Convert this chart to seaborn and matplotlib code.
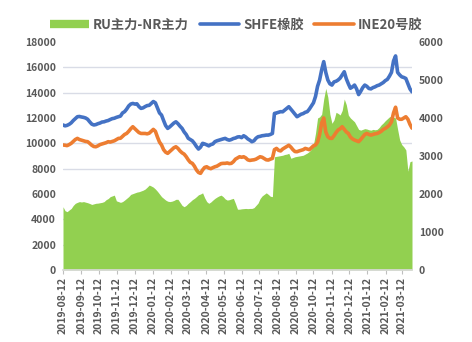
import numpy as np
import pandas as pd
import matplotlib
matplotlib.use('Agg')
import matplotlib.pyplot as plt
from matplotlib.lines import Line2D
import seaborn as sns

sns.set_theme(style='white')
plt.rcParams['font.family'] = ['Noto Sans CJK SC', 'DejaVu Sans']

# ---- data (readings every 3.5 days, taken from the chart) ----
start_date = '2019-08-12'
step = '84h'
shfe = [11450, 11380, 11420, 11500, 11620, 11800, 11950, 12100, 12120, 12080,
        12050, 12000, 11900, 11700, 11520, 11450, 11480, 11550, 11600, 11680,
        11700, 11760, 11800, 11880, 11950, 11980, 12050, 12100, 12150, 12400,
        12500, 12700, 12950, 13100, 13150, 13100, 13120, 12900, 12760, 12800,
        12900, 12980, 13000, 13150, 13300, 13200, 12800, 12400, 12230, 11800,
        11400, 11180, 11300, 11450, 11600, 11700, 11550, 11350, 11180, 10900,
        10700, 10400, 10300, 10200, 10000, 9750, 9550, 9700, 10000, 9950,
        9880, 9800, 9900, 9950, 10130, 10200, 10250, 10300, 10350, 10390,
        10300, 10250, 10300, 10380, 10420, 10500, 10520, 10450, 10600, 10500,
        10350, 10250, 10130, 10200, 10400, 10520, 10550, 10600, 10620, 10650,
        10650, 10700, 10780, 12360, 12400, 12450, 12500, 12490, 12620, 12750,
        12890, 12700, 12500, 12300, 12100, 12200, 12300, 12350, 12450, 12500,
        12700, 12950, 13200, 13700, 14500, 15000, 15800, 16450, 15600, 15000,
        14700, 14600, 14850, 14900, 15000, 15150, 15400, 15650, 15100, 14700,
        14350, 14450, 14600, 14300, 13850, 14100, 14400, 14600, 14500, 14330,
        14300, 14400, 14460, 14550, 14600, 14700, 14800, 14950, 15050, 15300,
        15600, 16500, 16900, 15600, 15400, 15250, 15200, 15120, 14700, 14300,
        14070]
ine = [9870, 9850, 9820, 9900, 10000, 10150, 10300, 10390, 10300, 10250,
       10200, 10150, 10130, 10000, 9850, 9750, 9730, 9800, 9900, 9950,
       10000, 10050, 10130, 10100, 10150, 10200, 10300, 10390, 10400, 10550,
       10700, 10780, 10950, 11150, 11310, 11150, 11000, 10850, 10780, 10780,
       10780, 10750, 10800, 10950, 11100, 10950, 10500, 10100, 9870, 9500,
       9300, 9210, 9350, 9500, 9650, 9730, 9600, 9400, 9250, 9150,
       8950, 8700, 8500, 8420, 8200, 7900, 7700, 7630, 7900, 8100,
       8150, 8050, 8000, 8080, 8150, 8200, 8300, 8400, 8420, 8420,
       8450, 8400, 8420, 8550, 8750, 8850, 8940, 8900, 8940, 8850,
       8700, 8650, 8680, 8700, 8750, 8850, 8940, 8900, 8800, 8700,
       8680, 8750, 8810, 9500, 9600, 9450, 9400, 9550, 9650, 9750,
       9850, 9700, 9500, 9350, 9340, 9400, 9450, 9500, 9600, 9550,
       9500, 9650, 9800, 9870, 10100, 10700, 11600, 12000, 10900, 10520,
       10400, 10390, 10600, 10850, 11050, 11150, 11310, 11100, 10900, 10780,
       10500, 10350, 10260, 10200, 10130, 10300, 10500, 10700, 10780, 10700,
       10650, 10700, 10750, 10780, 10850, 10950, 11100, 11180, 11300, 11440,
       11700, 12400, 12850, 12000, 11900, 11900, 12000, 12100, 11900, 11500,
       11200]
spread = [1665, 1560, 1535, 1580, 1620, 1700, 1755, 1780, 1800, 1790,
          1800, 1785, 1770, 1750, 1725, 1740, 1755, 1760, 1770, 1780,
          1800, 1850, 1880, 1930, 1950, 1970, 1820, 1800, 1780, 1800,
          1840, 1885, 1930, 1990, 2010, 2030, 2050, 2060, 2080, 2100,
          2130, 2180, 2235, 2210, 2180, 2130, 2070, 2000, 1930, 1885,
          1840, 1810, 1800, 1810, 1830, 1860, 1860, 1780, 1700, 1665,
          1700, 1755, 1800, 1850, 1885, 1930, 1980, 2000, 2030, 1900,
          1800, 1755, 1790, 1840, 1885, 1920, 1950, 1970, 1930, 1870,
          1840, 1850, 1870, 1885, 1750, 1600, 1600, 1610, 1615, 1620,
          1615, 1620, 1620, 1640, 1700, 1760, 1880, 1950, 1990, 2030,
          1990, 1940, 1930, 2980, 2990, 3000, 3010, 3020, 3040, 3050,
          3070, 2940, 2960, 2980, 2990, 3000, 3010, 3020, 3050, 3080,
          3120, 3180, 3300, 3600, 4000, 4030, 4100, 4500, 4780, 4550,
          4100, 3860, 3950, 4150, 4120, 4080, 4200, 4500, 4350, 4075,
          4000, 3950, 3900, 3800, 3700, 3680, 3700, 3720, 3710, 3690,
          3680, 3700, 3690, 3700, 3750, 3820, 3870, 3930, 3980, 4030,
          4050, 4020, 4000, 3700, 3420, 3300, 3240, 3160, 2600, 2850,
          2870]
tick_dates = ['2019-08-12', '2019-09-12', '2019-10-12', '2019-11-12', '2019-12-12',
              '2020-01-12', '2020-02-12', '2020-03-12', '2020-04-12', '2020-05-12',
              '2020-06-12', '2020-07-12', '2020-08-12', '2020-09-12', '2020-10-12',
              '2020-11-12', '2020-12-12', '2021-01-12', '2021-02-12', '2021-03-12']
left_ticks = [0, 2000, 4000, 6000, 8000, 10000, 12000, 14000, 16000, 18000]
right_ticks = [0, 1000, 2000, 3000, 4000, 5000, 6000]

GREEN = '#92D050'
BLUE = '#4472C4'
ORANGE = '#ED7D31'
TXT = '#595959'
GRID = '#D9DCE6'

dates = pd.date_range(start_date, periods=len(shfe), freq=step)
df = pd.DataFrame({'date': dates, 'SHFE橡胶': shfe, 'INE20号胶': ine,
                   'RU主力-NR主力': spread})

fig = plt.figure(figsize=(4.72, 3.42), dpi=100)
ax = fig.add_axes([63/472, 1-270/342, (412-63)/472, (270-42)/342])
ax.fill_between(df['date'], 0, df['RU主力-NR主力'], color=GREEN, linewidth=0, zorder=1)
ax2 = ax.twinx()
sns.lineplot(data=df, x='date', y='SHFE橡胶', ax=ax2, color=BLUE, linewidth=2.6)
sns.lineplot(data=df, x='date', y='INE20号胶', ax=ax2, color=ORANGE, linewidth=2.6)

ax.set_xlim(dates[0], dates[-1])
ax.set_ylim(0, 6000)
ax2.set_ylim(0, 18000)

ax.yaxis.tick_right()
ax2.yaxis.tick_left()
ax.set_yticks(right_ticks)
ax.set_yticklabels([str(v) for v in right_ticks])
ax2.set_yticks(left_ticks)
ax2.set_yticklabels([str(v) for v in left_ticks])

# grid at left-axis levels, under the green area
ax.set_yticks(np.linspace(0, 6000, 10), minor=True)
ax.set_axisbelow(True)
ax.grid(False)
ax.grid(True, which='minor', axis='y', color=GRID, linewidth=1.0)
ax2.grid(False)

ax.set_xticks(pd.to_datetime(tick_dates))
ax.set_xticklabels(tick_dates, rotation=90)

for a in (ax, ax2):
    a.set_xlabel('')
    a.set_ylabel('')
    for s in a.spines.values():
        s.set_visible(False)
ax.spines['bottom'].set_visible(True)
ax.spines['bottom'].set_color('#D9D9D9')

ax.tick_params(axis='x', which='major', length=3, width=0.8, color='#BFBFBF',
               labelsize=7.5, labelcolor=TXT, pad=2, bottom=True)
ax.tick_params(axis='y', which='both', length=0, labelsize=7.5, labelcolor=TXT, pad=5)
ax2.tick_params(axis='y', length=0, labelsize=7.5, labelcolor=TXT, pad=5)
for lab in ax.get_xticklabels() + ax.get_yticklabels() + ax2.get_yticklabels():
    lab.set_fontweight('bold')

handles = [Line2D([], [], color=GREEN, linewidth=6, solid_capstyle='butt'),
           Line2D([], [], color=BLUE, linewidth=2.6, solid_capstyle='round'),
           Line2D([], [], color=ORANGE, linewidth=2.6, solid_capstyle='round')]
labels = ['RU主力-NR主力', 'SHFE橡胶', 'INE20号胶']
fig.legend(handles, labels, loc='center', bbox_to_anchor=(0.5, 1-25/342), ncol=3,
           frameon=False, handlelength=3.0, columnspacing=0.8, handletextpad=0.3,
           prop={'size': 9.5, 'weight': 'bold'}, labelcolor=TXT)

fig.savefig('out.png', dpi=100)
